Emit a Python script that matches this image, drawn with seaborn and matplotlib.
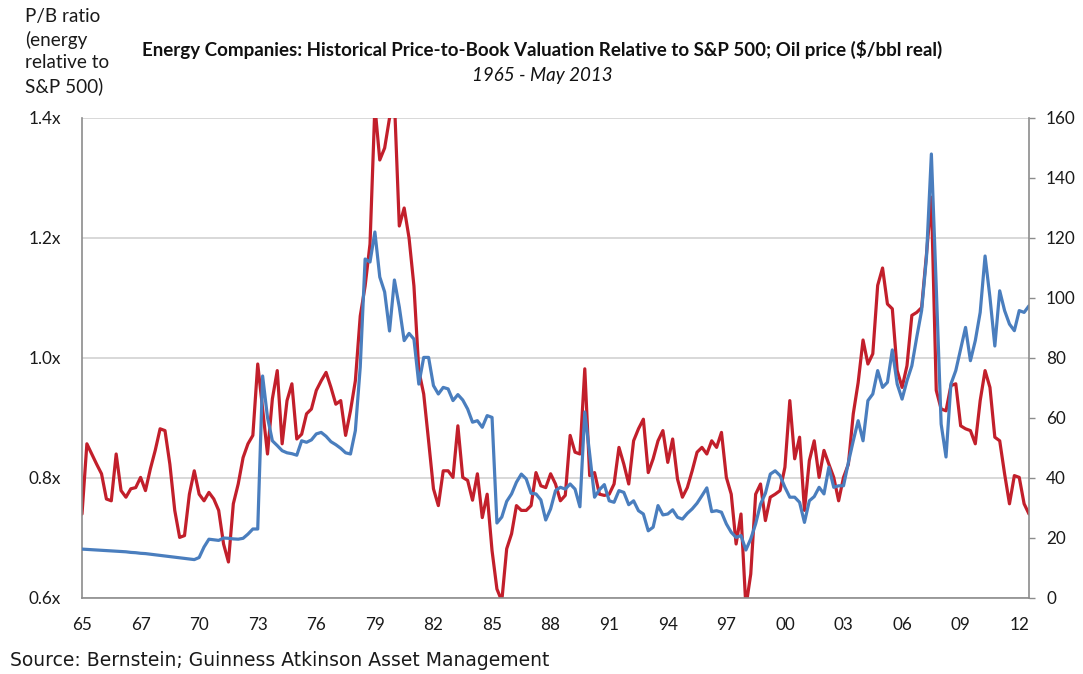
import matplotlib
matplotlib.use("Agg")
import matplotlib.pyplot as plt
import seaborn as sns
import numpy as np

# Energy P/B relative to S&P 500 (left axis), sampled evenly from 1965 to May 2013
pb_ratio = [
    0.74, 0.857, 0.84, 0.823, 0.807, 0.765, 0.762, 0.84, 0.779, 0.768,
    0.782, 0.784, 0.801, 0.779, 0.815, 0.846, 0.882, 0.879, 0.823, 0.746,
    0.701, 0.704, 0.773, 0.812, 0.773, 0.762, 0.776, 0.765, 0.746, 0.69,
    0.66, 0.757, 0.79, 0.834, 0.857, 0.871, 0.99, 0.915, 0.84, 0.932,
    0.979, 0.857, 0.929, 0.957, 0.865, 0.873, 0.907, 0.915, 0.946, 0.962,
    0.976, 0.951, 0.923, 0.929, 0.871, 0.912, 0.962, 1.07, 1.12, 1.19,
    1.42, 1.33, 1.35, 1.40, 1.43, 1.22, 1.25, 1.20, 1.12, 0.979,
    0.94, 0.862, 0.782, 0.754, 0.812, 0.812, 0.801, 0.887, 0.801, 0.796,
    0.763, 0.807, 0.734, 0.773, 0.679, 0.615, 0.595, 0.682, 0.707, 0.754,
    0.746, 0.746, 0.754, 0.809, 0.787, 0.784, 0.807, 0.79, 0.762, 0.771,
    0.871, 0.843, 0.84, 0.982, 0.804, 0.809, 0.773, 0.771, 0.773, 0.79,
    0.851, 0.823, 0.79, 0.862, 0.882, 0.898, 0.809, 0.832, 0.862, 0.879,
    0.826, 0.865, 0.798, 0.768, 0.784, 0.812, 0.843, 0.851, 0.84, 0.862,
    0.851, 0.876, 0.801, 0.773, 0.69, 0.74, 0.585, 0.64, 0.773, 0.79,
    0.729, 0.768, 0.773, 0.779, 0.818, 0.929, 0.832, 0.868, 0.746, 0.829,
    0.862, 0.801, 0.846, 0.823, 0.801, 0.762, 0.801, 0.823, 0.907, 0.959,
    1.03, 0.99, 1.007, 1.121, 1.15, 1.09, 1.082, 0.979, 0.951, 0.987,
    1.071, 1.076, 1.084, 1.173, 1.268, 0.946, 0.915, 0.912, 0.954, 0.957,
    0.887, 0.882, 0.879, 0.857, 0.929, 0.979, 0.951, 0.868, 0.862, 0.807,
    0.757, 0.804, 0.801, 0.757, 0.74,
]

# Oil price, $/bbl real (right axis)
oil_price = [
    16.3, 16.2, 16.1, 16.0, 15.9, 15.8, 15.7, 15.6, 15.5, 15.4,
    15.2, 15.1, 14.9, 14.8, 14.6, 14.4, 14.2, 14.0, 13.8, 13.6,
    13.4, 13.2, 13.0, 12.8, 13.5, 17.0, 19.6, 19.4, 19.2, 20.0,
    19.9, 19.7, 19.6, 19.9, 21.3, 23.0, 23.0, 74.0, 60.2, 52.4,
    50.8, 49.1, 48.4, 48.1, 47.6, 52.4, 51.9, 52.7, 54.7, 55.2,
    53.9, 52.1, 51.1, 49.9, 48.4, 48.0, 55.8, 77.0, 113.0, 112.0,
    122.0, 107.0, 102.0, 89.0, 106.0, 97.0, 85.8, 88.2, 86.3, 71.3,
    80.2, 80.2, 70.8, 68.0, 70.2, 69.7, 65.8, 67.8, 66.0, 63.0,
    58.6, 59.1, 56.9, 60.8, 60.2, 25.0, 27.0, 32.2, 34.7, 38.6,
    41.3, 39.7, 34.9, 34.7, 32.7, 26.0, 29.7, 35.8, 36.9, 36.3,
    38.0, 36.3, 30.4, 62.0, 48.0, 33.6, 36.1, 37.8, 32.4, 31.9,
    35.8, 35.2, 31.1, 32.4, 29.1, 28.0, 22.4, 23.6, 30.8, 27.7,
    28.0, 29.4, 26.9, 26.3, 28.2, 29.7, 31.6, 34.1, 36.7, 28.8,
    29.1, 28.6, 24.7, 21.9, 20.2, 20.8, 16.0, 19.7, 24.7, 31.3,
    34.9, 41.3, 42.4, 40.8, 36.9, 33.6, 33.6, 31.9, 25.2, 32.4,
    33.8, 36.9, 34.7, 43.6, 36.9, 37.4, 37.4, 45.2, 52.4, 59.1,
    52.4, 65.8, 68.0, 75.8, 70.2, 71.9, 82.7, 71.3, 66.3, 72.4,
    77.4, 86.9, 95.8, 113.6, 148.0, 103.6, 58.0, 47.0, 71.3, 75.8,
    83.0, 90.2, 79.1, 85.8, 95.2, 114.0, 100.2, 84.0, 102.4, 95.8,
    91.3, 89.1, 95.8, 95.2, 97.4,
]

year_labels = ["65", "67", "70", "73", "76", "79", "82", "85", "88",
               "91", "94", "97", "00", "03", "06", "09", "12"]
pb_ticks = [0.6, 0.8, 1.0, 1.2, 1.4]
oil_ticks = list(range(0, 161, 20))

RED = "#C21F2B"
BLUE = "#4A7EBE"
AXIS_GREY = "#8C8C8C"
GRID_GREY = "#D6D6D6"

sns.set_theme(style="white")
plt.rcParams["font.family"] = ["Lato", "DejaVu Sans"]

fig = plt.figure(figsize=(10.83, 6.74), dpi=100)
W, H = 1083, 674
ax = fig.add_axes([82 / W, 1 - 598 / H, (1029 - 82) / W, (598 - 118) / H])

idx = np.arange(len(pb_ratio))
sns.lineplot(x=idx, y=pb_ratio, ax=ax, color=RED, linewidth=2.3,
             solid_joinstyle="round")
ax.set_xlim(0, len(pb_ratio) - 1)
ax.set_ylim(0.6, 1.4)
ax.set_yticks(pb_ticks)
ax.set_yticklabels([f"{v:.1f}x" for v in pb_ticks])
ax.set_xticks(np.arange(len(year_labels)) * 12)
ax.set_xticklabels(year_labels)
ax.yaxis.grid(True, color=GRID_GREY, linewidth=1.3)
ax.set_axisbelow(True)
ax.set_xlabel("")
ax.set_ylabel("")
ax.tick_params(axis="y", length=0, pad=15, labelsize=12.3, colors="#1a1a1a")
ax.tick_params(axis="x", length=0, pad=14, labelsize=12.3, colors="#1a1a1a")
for side in ["top", "right"]:
    ax.spines[side].set_visible(False)
for side in ["left", "bottom"]:
    ax.spines[side].set_color(AXIS_GREY)
    ax.spines[side].set_linewidth(1.2)

ax2 = ax.twinx()
sns.lineplot(x=idx, y=oil_price, ax=ax2, color=BLUE, linewidth=2.3,
             solid_joinstyle="round")
ax2.set_ylim(0, 160)
ax2.set_yticks(oil_ticks)
ax2.set_ylabel("")
ax2.grid(False)
ax2.tick_params(axis="y", length=4.3, width=1.0, color=AXIS_GREY,
                direction="out", pad=8, labelsize=12.3, colors="#1a1a1a")
ax2.tick_params(axis="y", color=AXIS_GREY)
for side in ["top", "left", "bottom"]:
    ax2.spines[side].set_visible(False)
ax2.spines["right"].set_color(AXIS_GREY)
ax2.spines["right"].set_linewidth(1.2)

fig.text(0.501, 1 - 49 / H,
         r"Energy Companies: Historical Price-to-Book Valuation Relative to S&P 500; Oil price (\$/bbl real)",
         ha="center", va="center", fontsize=13.5, fontweight="bold", color="#111111")
fig.text(0.501, 1 - 75 / H, "1965 - May 2013", ha="center", va="center",
         fontsize=13.5, style="italic", color="#111111")
fig.text(25 / W, 1 - 8 / H, "P/B ratio\n(energy\nrelative to\nS&P 500)",
         ha="left", va="top", fontsize=13.6, linespacing=1.38, color="#1a1a1a")
fig.text(10 / W, 1 - 661 / H, "Source: Bernstein; Guinness Atkinson Asset Management",
         ha="left", va="center", fontsize=13.5, color="#1a1a1a",
         family=["DejaVu Sans"])

fig.savefig("out.png", dpi=100)
